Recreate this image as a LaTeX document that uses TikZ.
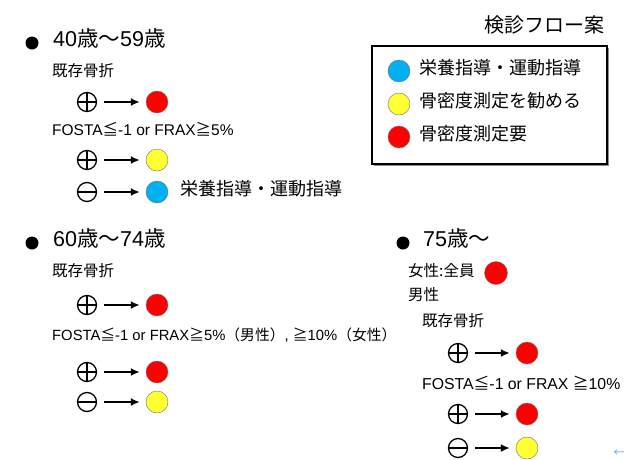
\documentclass[tikz,border=0pt]{standalone}
\usepackage{fontspec}
\setmainfont{Liberation Sans}
\newfontfamily\jpfont{Noto Sans CJK JP}
\usetikzlibrary{arrows.meta,shadows}
\newcommand{\jp}[1]{{\jpfont #1}}
\definecolor{guideblue}{RGB}{0,176,240}
\definecolor{bmdyellow}{RGB}{255,255,51}
\definecolor{retblue}{RGB}{90,160,225}
\tikzstyle{line} = [draw, -{Latex[length=9pt, width=8pt]}, line width=2pt, shorten <=7pt, shorten >=6pt]
\tikzstyle{bullet} = [circle, fill=black, minimum size=13pt, inner sep=0pt]
\tikzstyle{head} = [anchor=west, inner sep=0pt, text height=0.88em, text depth=0.12em, font=\fontsize{21.5}{25}\selectfont]
\tikzstyle{sub} = [anchor=west, inner sep=0pt, text height=0.88em, text depth=0.12em, font=\fontsize{15.5}{18}\selectfont]
\tikzstyle{note} = [anchor=west, inner sep=0pt, text height=0.88em, text depth=0.12em, font=\fontsize{18}{21}\selectfont]
\tikzstyle{dot} = [draw=black!55, circle, minimum size=22pt, inner sep=0pt, node distance=70pt]
\tikzstyle{red_dot} = [dot, fill=red]
\tikzstyle{yellow_dot} = [dot, fill=bmdyellow]
\tikzstyle{blue_dot} = [dot, fill=guideblue]
\tikzstyle{yes} = [draw, circle, line width=1.3pt, minimum size=19pt, inner sep=0pt, path picture={\draw[line width=1.3pt] (path picture bounding box.north) -- (path picture bounding box.south) (path picture bounding box.west) -- (path picture bounding box.east);}]
\tikzstyle{no} = [draw, circle, line width=1.3pt, minimum size=19pt, inner sep=0pt, path picture={\draw[line width=1.3pt] (path picture bounding box.west) -- (path picture bounding box.east);}]

\begin{document}
\begin{tikzpicture}[x=1pt, y=-1pt]
\useasboundingbox (0,0) rectangle (625,459);

\node [anchor=east, inner sep=0pt, font=\fontsize{20}{24}\selectfont] (title) at (605,25) {\jp{検診フロー案}};
\node [draw, line width=1.8pt, fill=white, minimum width=235pt, minimum height=118pt, drop shadow={shadow xshift=2pt, shadow yshift=-2pt, fill=black!45, opacity=1}] (legend) at (489.5,105) {};
\node [blue_dot] (lg1) at (399,71) {};
\node [note] (lgt1) at (419,71) {\jp{栄養指導・運動指導}};
\node [yellow_dot] (lg2) at (399,104) {};
\node [note] (lgt2) at (419,104) {\jp{骨密度測定を勧める}};
\node [red_dot] (lg3) at (399,137) {};
\node [note] (lgt3) at (419,137) {\jp{骨密度測定要}};


\node [bullet] (b1) at (32,43) {};
\node [head] (age1) at (53,43) {40\jp{歳～}59\jp{歳}};
\node [sub] (frac1) at (52,73) {\jp{既存骨折}};
\node [yes] (p11) at (87,102) {};
\node [red_dot, right of=p11] (c11) {};
\path [line] (p11) to (c11);
\node [sub] (fosta1) at (52,132) {FOSTA\jp{≦}-1 or FRAX\jp{≧}5\%};
\node [yes] (p12) at (87,160) {};
\node [yellow_dot, right of=p12] (c12) {};
\path [line] (p12) to (c12);
\node [no] (m12) at (87,192) {};
\node [blue_dot, right of=m12] (c13) {};
\path [line] (m12) to (c13);
\node [note] (guide1) at (180,192) {\jp{栄養指導・運動指導}};


\node [bullet] (b2) at (32,243) {};
\node [head] (age2) at (53,243) {60\jp{歳～}74\jp{歳}};
\node [sub] (frac2) at (52,273) {\jp{既存骨折}};
\node [yes] (p21) at (87,305) {};
\node [red_dot, right of=p21] (c21) {};
\path [line] (p21) to (c21);
\node [sub, font=\fontsize{14.8}{18}\selectfont] (fosta2) at (52,337) {FOSTA\jp{≦}-1 or FRAX\jp{≧}5\%\jp{（男性）}, \jp{≧}10\%\jp{（女性）}};
\node [yes] (p22) at (87,372) {};
\node [red_dot, right of=p22] (c22) {};
\path [line] (p22) to (c22);
\node [no] (m22) at (87,402) {};
\node [yellow_dot, right of=m22] (c23) {};
\path [line] (m22) to (c23);


\node [bullet] (b3) at (403,243) {};
\node [head] (age3) at (423,243) {75\jp{歳～}};
\node [sub] (women) at (408,273) {\jp{女性:全員}};
\node [red_dot, minimum size=23pt] (c30) at (496,273) {};
\node [sub] (men) at (408,297) {\jp{男性}};
\node [sub] (frac3) at (422,323) {\jp{既存骨折}};
\node [yes] (p31) at (458,353) {};
\node [red_dot, right of=p31, node distance=69pt] (c31) {};
\path [line] (p31) to (c31);
\node [sub, font=\fontsize{15.8}{19}\selectfont] (fosta3) at (422,386) {FOSTA\jp{≦}-1 or FRAX \jp{≧}10\%};
\node [yes] (p32) at (458,414) {};
\node [red_dot, right of=p32, node distance=69pt] (c32) {};
\path [line] (p32) to (c32);
\node [no] (m32) at (458,448) {};
\node [yellow_dot, right of=m32, node distance=69pt] (c33) {};
\path [line] (m32) to (c33);

\node [inner sep=0pt, text=retblue, font=\fontsize{11}{11}\selectfont\jpfont] (ret) at (619,453) {←};
\end{tikzpicture}
\end{document}
